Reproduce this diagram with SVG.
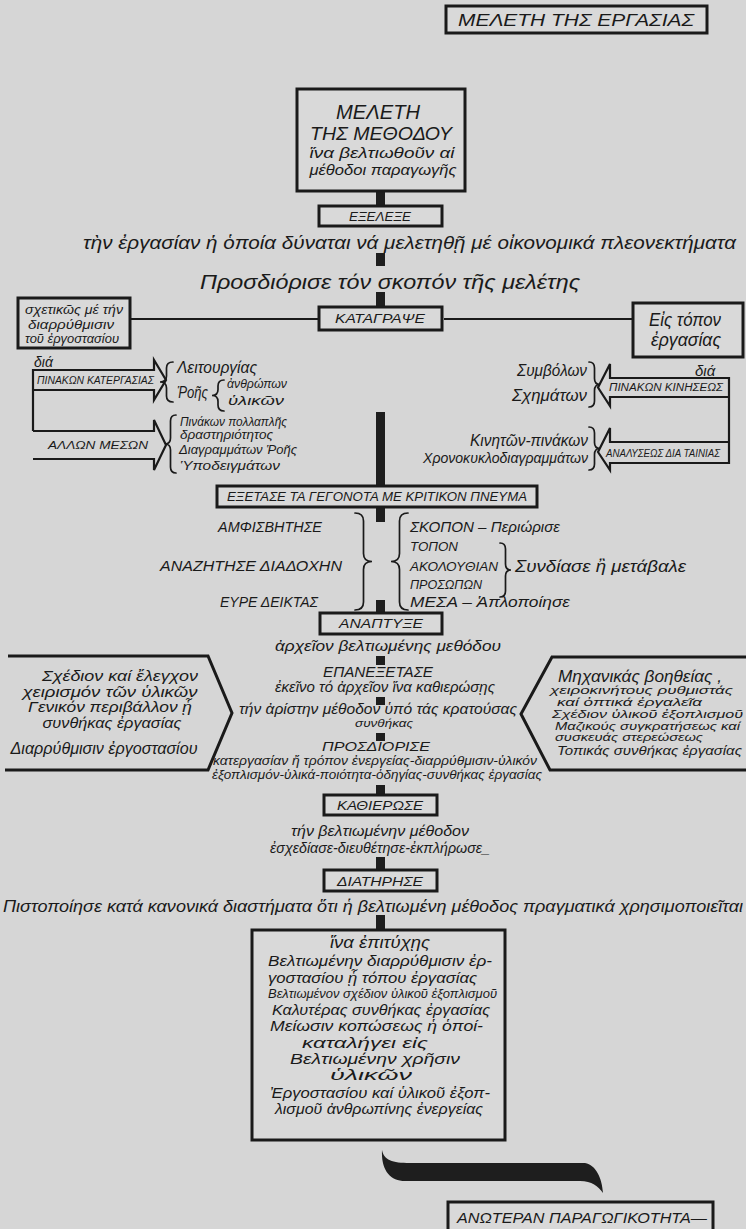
<svg xmlns="http://www.w3.org/2000/svg" width="746" height="1229" viewBox="0 0 746 1229">
<defs>
<style>
.t{font-family:"Liberation Sans","DejaVu Sans",sans-serif;font-style:italic;fill:#1a1a1a}
.c{text-anchor:middle}
.e{text-anchor:end}
.box{fill:#d9d9d9;stroke:#1a1a1a;stroke-width:3}
.bar{fill:#1e1e1e}
.ln{fill:none;stroke:#1a1a1a;stroke-width:2}
.br{fill:none;stroke:#1a1a1a;stroke-width:1.7;stroke-linecap:round}
.arr{fill:none;stroke:#1a1a1a;stroke-width:2.2;stroke-linejoin:miter}
.hex{fill:none;stroke:#1a1a1a;stroke-width:3;stroke-linejoin:miter}
</style>
</defs>
<rect width="746" height="1229" fill="#d6d6d6"/>

<g id="connectors">
<rect class="bar" x="376" y="191" width="9" height="15"/>
<rect class="bar" x="376" y="253" width="9" height="13"/>
<rect class="bar" x="376" y="292" width="9" height="15"/>
<line class="ln" x1="130" y1="319" x2="318" y2="319"/>
<line class="ln" x1="444" y1="319" x2="633" y2="319"/>
<rect class="bar" x="376" y="412" width="9" height="74"/>
<rect class="bar" x="376" y="507" width="9" height="15"/>
<rect class="bar" x="376" y="600" width="9" height="12"/>
<rect class="bar" x="376" y="656" width="9" height="9"/>
<rect class="bar" x="376" y="697" width="9" height="8"/>
<rect class="bar" x="376" y="733" width="9" height="8"/>
<rect class="bar" x="376" y="785" width="9" height="10"/>
<rect class="bar" x="376" y="857" width="9" height="13"/>
<rect class="bar" x="376" y="915" width="9" height="15"/>
<path class="bar" d="M382 1150 C384 1160 392 1163 410 1163 L585 1163 C596 1165 602 1178 603 1193 C598 1186 592 1181 580 1181 L405 1181 C390 1181 381 1170 382 1150 Z"/>
</g>

<g id="title">
<rect class="box" x="446" y="6" width="261" height="27"/>
<text class="t c" x="576" y="26" font-size="17" textLength="236" lengthAdjust="spacingAndGlyphs">ΜΕΛΕΤΗ ΤΗΣ ΕΡΓΑΣΙΑΣ</text>
</g>

<g id="meleti">
<rect class="box" x="297" y="89" width="168" height="102" stroke-width="3.5"/>
<text class="t c" x="378" y="119" font-size="20" textLength="84" lengthAdjust="spacingAndGlyphs">ΜΕΛΕΤΗ</text>
<text class="t c" x="381" y="140" font-size="19" textLength="142" lengthAdjust="spacingAndGlyphs">ΤΗΣ ΜΕΘΟΔΟΥ</text>
<text class="t c" x="382" y="158" font-size="15" textLength="145" lengthAdjust="spacingAndGlyphs">ἵνα βελτιωθοῦν αἱ</text>
<text class="t c" x="383" y="175" font-size="15" textLength="147" lengthAdjust="spacingAndGlyphs">μέθοδοι παραγωγῆς</text>
</g>

<g id="exelexe">
<rect class="box" x="319" y="206" width="123" height="20"/>
<text class="t c" x="380" y="221" font-size="13" textLength="62" lengthAdjust="spacingAndGlyphs">ΕΞΕΛΕΞΕ</text>
<text class="t" x="83" y="249" font-size="18" textLength="653" lengthAdjust="spacingAndGlyphs">τὴν ἐργασίαν ἡ ὁποία δύναται νά μελετηθῇ μέ οἰκονομικά πλεονεκτήματα</text>
</g>

<g id="skopos">
<text class="t c" x="390" y="289" font-size="20" textLength="380" lengthAdjust="spacingAndGlyphs">Προσδιόρισε τόν σκοπόν τῆς μελέτης</text>
</g>

<g id="katagrapse">
<rect class="box" x="319" y="307" width="123" height="23"/>
<text class="t c" x="380" y="323" font-size="13" textLength="90" lengthAdjust="spacingAndGlyphs">ΚΑΤΑΓΡΑΨΕ</text>
</g>

<g id="left-box">
<rect class="box" x="18" y="298" width="112" height="50" stroke-width="2.5"/>
<text class="t" x="25" y="314" font-size="13" textLength="98" lengthAdjust="spacingAndGlyphs">σχετικῶς μέ τήν</text>
<text class="t" x="28" y="329" font-size="13" textLength="86" lengthAdjust="spacingAndGlyphs">διαρρύθμισιν</text>
<text class="t" x="25" y="343" font-size="13" textLength="94" lengthAdjust="spacingAndGlyphs">τοῦ ἐργοστασίου</text>
</g>

<g id="right-box">
<rect class="box" x="633" y="303" width="110" height="54" stroke-width="2.5"/>
<text class="t c" x="685" y="326" font-size="18" textLength="72" lengthAdjust="spacingAndGlyphs">Εἰς τόπον</text>
<text class="t c" x="686" y="346" font-size="18" textLength="70" lengthAdjust="spacingAndGlyphs">ἐργασίας</text>
</g>

<g id="left-arrows">
<text class="t" x="34" y="367" font-size="14">διά</text>
<path class="arr" d="M33 370 L154 370 L154 360 L166 380 L154 400 L154 390 L33 390"/>
<line class="arr" x1="33" y1="369" x2="33" y2="431"/>
<text class="t" x="37" y="384" font-size="10" textLength="117" lengthAdjust="spacingAndGlyphs">ΠΙΝΑΚΩΝ ΚΑΤΕΡΓΑΣΙΑΣ</text>
<path class="arr" d="M33 431 L154 431 L154 420 L166 445 L154 470 L154 459 L33 459"/>
<text class="t" x="48" y="449" font-size="11" textLength="100" lengthAdjust="spacingAndGlyphs">ΑΛΛΩΝ ΜΕΣΩΝ</text>
</g>

<g id="left-lists">
<path class="br" d="M173 362 Q166.5 362 166.5 368 L166.5 376 Q166.5 382 160 382 Q166.5 382 166.5 388 L166.5 396 Q166.5 402 173 402"/>
<text class="t" x="177" y="373" font-size="16" textLength="80" lengthAdjust="spacingAndGlyphs">Λειτουργίας</text>
<text class="t" x="177" y="398" font-size="16" textLength="31" lengthAdjust="spacingAndGlyphs">Ῥοῆς</text>
<path class="br" d="M224 380 Q218 380 218 386 L218 389.5 Q218 395.5 212 395.5 Q218 395.5 218 401.5 L218 405 Q218 411 224 411"/>
<text class="t" x="227" y="388" font-size="13" textLength="60" lengthAdjust="spacingAndGlyphs">ἀνθρώπων</text>
<text class="t" x="228" y="405" font-size="13" textLength="56" lengthAdjust="spacingAndGlyphs">ὑλικῶν</text>
<path class="br" d="M176 415 Q170.5 415 170.5 421 L170.5 438 Q170.5 444 165 444 Q170.5 444 170.5 450 L170.5 467 Q170.5 473 176 473"/>
<text class="t" x="180" y="426" font-size="13" textLength="107" lengthAdjust="spacingAndGlyphs">Πινάκων πολλαπλῆς</text>
<text class="t" x="180" y="439" font-size="13" textLength="93" lengthAdjust="spacingAndGlyphs">δραστηριότητος</text>
<text class="t" x="179" y="454" font-size="13" textLength="118" lengthAdjust="spacingAndGlyphs">Διαγραμμάτων Ῥοῆς</text>
<text class="t" x="180" y="470" font-size="13" textLength="100" lengthAdjust="spacingAndGlyphs">Ὑποδειγμάτων</text>
</g>

<g id="right-arrows">
<text class="t" x="695" y="376" font-size="15">διά</text>
<path class="arr" d="M729 378 L610 378 L610 364 L598 387.5 L610 406 L610 397 L729 397"/>
<line class="arr" x1="729" y1="377" x2="729" y2="464"/>
<text class="t" x="609" y="391" font-size="10" textLength="114" lengthAdjust="spacingAndGlyphs">ΠΙΝΑΚΩΝ ΚΙΝΗΣΕΩΣ</text>
<path class="arr" d="M729 442 L610 442 L610 428 L598 452 L610 470 L610 463 L729 463"/>
<text class="t" x="606" y="457" font-size="10" textLength="114" lengthAdjust="spacingAndGlyphs">ΑΝΑΛΥΣΕΩΣ ΔΙΑ ΤΑΙΝΙΑΣ</text>
</g>

<g id="right-lists">
<path class="br" d="M589 362 Q594.5 362 594.5 368 L594.5 378.5 Q594.5 384.5 600 384.5 Q594.5 384.5 594.5 390.5 L594.5 401 Q594.5 407 589 407"/>
<text class="t e" x="587" y="376" font-size="17" textLength="70" lengthAdjust="spacingAndGlyphs">Συμβόλων</text>
<text class="t e" x="587" y="401" font-size="17" textLength="75" lengthAdjust="spacingAndGlyphs">Σχημάτων</text>
<path class="br" d="M589 427 Q594.5 427 594.5 433 L594.5 442.5 Q594.5 448.5 600 448.5 Q594.5 448.5 594.5 454.5 L594.5 464 Q594.5 470 589 470"/>
<text class="t e" x="588" y="446" font-size="16" textLength="118" lengthAdjust="spacingAndGlyphs">Κινητῶν-πινάκων</text>
<text class="t e" x="588" y="463" font-size="14" textLength="165" lengthAdjust="spacingAndGlyphs">Χρονοκυκλοδιαγραμμάτων</text>
</g>

<g id="exetase">
<rect class="box" x="217" y="486" width="320" height="21"/>
<text class="t c" x="377" y="501" font-size="12.5" textLength="300" lengthAdjust="spacingAndGlyphs">ΕΞΕΤΑΣΕ ΤΑ ΓΕΓΟΝΟΤΑ ΜΕ ΚΡΙΤΙΚΟΝ ΠΝΕΥΜΑ</text>
</g>

<g id="questions">
<text class="t" x="218" y="532" font-size="14" textLength="104" lengthAdjust="spacingAndGlyphs">ΑΜΦΙΣΒΗΤΗΣΕ</text>
<text class="t" x="160" y="571" font-size="14" textLength="182" lengthAdjust="spacingAndGlyphs">ΑΝΑΖΗΤΗΣΕ ΔΙΑΔΟΧΗΝ</text>
<text class="t" x="220" y="607" font-size="14" textLength="98" lengthAdjust="spacingAndGlyphs">ΕΥΡΕ ΔΕΙΚΤΑΣ</text>
<path class="br" d="M355 513 Q363.5 513 363.5 521 L363.5 553.5 Q363.5 561.5 372 561.5 Q363.5 561.5 363.5 569.5 L363.5 602 Q363.5 610 355 610"/>
<path class="br" d="M408 513 Q399.5 513 399.5 521 L399.5 553.5 Q399.5 561.5 391 561.5 Q399.5 561.5 399.5 569.5 L399.5 602 Q399.5 610 408 610"/>
<text class="t" x="410" y="532" font-size="14" textLength="150" lengthAdjust="spacingAndGlyphs">ΣΚΟΠΟΝ – Περιώρισε</text>
<text class="t" x="410" y="551" font-size="13" textLength="48" lengthAdjust="spacingAndGlyphs">ΤΟΠΟΝ</text>
<text class="t" x="410" y="571" font-size="13" textLength="88" lengthAdjust="spacingAndGlyphs">ΑΚΟΛΟΥΘΙΑΝ</text>
<text class="t" x="410" y="589" font-size="13" textLength="72" lengthAdjust="spacingAndGlyphs">ΠΡΟΣΩΠΩΝ</text>
<text class="t" x="410" y="607" font-size="14" textLength="160" lengthAdjust="spacingAndGlyphs">ΜΕΣΑ – Ἁπλοποίησε</text>
<path class="br" d="M500 543 Q505.5 543 505.5 549 L505.5 564 Q505.5 570 511 570 Q505.5 570 505.5 576 L505.5 591 Q505.5 597 500 597"/>
<text class="t" x="515" y="572" font-size="16" textLength="171" lengthAdjust="spacingAndGlyphs">Συνδίασε ἢ μετάβαλε</text>
</g>

<g id="anaptyxe">
<rect class="box" x="320" y="613" width="122" height="21"/>
<text class="t c" x="381" y="628" font-size="13" textLength="84" lengthAdjust="spacingAndGlyphs">ΑΝΑΠΤΥΞΕ</text>
<text class="t c" x="388" y="651" font-size="14" textLength="226" lengthAdjust="spacingAndGlyphs">ἀρχεῖον βελτιωμένης μεθόδου</text>
<text class="t c" x="378" y="677" font-size="14" textLength="110" lengthAdjust="spacingAndGlyphs">ΕΠΑΝΕΞΕΤΑΣΕ</text>
<text class="t c" x="385" y="692" font-size="14" textLength="220" lengthAdjust="spacingAndGlyphs">ἐκεῖνο τό ἀρχεῖον ἵνα καθιερώσῃς</text>
<text class="t c" x="378" y="714" font-size="14" textLength="278" lengthAdjust="spacingAndGlyphs">τήν ἀρίστην μέθοδον ὑπό τάς κρατούσας</text>
<text class="t c" x="384" y="727" font-size="11" textLength="58" lengthAdjust="spacingAndGlyphs">συνθήκας</text>
<text class="t c" x="376" y="751" font-size="13" textLength="108" lengthAdjust="spacingAndGlyphs">ΠΡΟΣΔΙΟΡΙΣΕ</text>
<text class="t c" x="375" y="765" font-size="12" textLength="324" lengthAdjust="spacingAndGlyphs">κατεργασίαν ἤ τρόπον ἐνεργείας-διαρρύθμισιν-ὑλικόν</text>
<text class="t c" x="377" y="779" font-size="12" textLength="330" lengthAdjust="spacingAndGlyphs">ἐξοπλισμόν-ὑλικά-ποιότητα-ὁδηγίας-συνθήκας ἐργασίας</text>
</g>

<g id="left-shape">
<path class="hex" d="M8 656 L208 656 L232 713 L208 770 L5 770"/>
<text class="t c" x="120" y="681" font-size="15" textLength="156" lengthAdjust="spacingAndGlyphs">Σχέδιον καί ἔλεγχον</text>
<text class="t c" x="110" y="697" font-size="15" textLength="175" lengthAdjust="spacingAndGlyphs">χειρισμόν τῶν ὑλικῶν</text>
<text class="t c" x="110" y="712" font-size="15" textLength="164" lengthAdjust="spacingAndGlyphs">Γενικόν περιβάλλον ᾗ</text>
<text class="t c" x="112" y="728" font-size="15" textLength="139" lengthAdjust="spacingAndGlyphs">συνθήκας ἐργασίας</text>
<text class="t c" x="104" y="754" font-size="16" textLength="187" lengthAdjust="spacingAndGlyphs">Διαρρύθμισιν ἐργοστασίου</text>
</g>

<g id="right-shape">
<path class="hex" d="M746 657 L552 657 L521 714 L550 770 L746 770"/>
<text class="t" x="558" y="682" font-size="16" textLength="164" lengthAdjust="spacingAndGlyphs">Μηχανικάς βοηθείας ,</text>
<text class="t" x="550" y="694" font-size="11.5" textLength="183" lengthAdjust="spacingAndGlyphs">χειροκινήτους ρυθμιστάς</text>
<text class="t" x="557" y="706" font-size="11" textLength="145" lengthAdjust="spacingAndGlyphs">καί ὀπτικά ἐργαλεῖα</text>
<text class="t" x="552" y="718" font-size="11" textLength="191" lengthAdjust="spacingAndGlyphs">Σχέδιον ὑλικοῦ ἐξοπλισμοῦ</text>
<text class="t" x="555" y="730" font-size="10.5" textLength="185" lengthAdjust="spacingAndGlyphs">Μαζικούς συγκρατήσεως καί</text>
<text class="t" x="555" y="741" font-size="10.5" textLength="148" lengthAdjust="spacingAndGlyphs">συσκευάς στερεώσεως</text>
<text class="t" x="557" y="755" font-size="12" textLength="185" lengthAdjust="spacingAndGlyphs">Τοπικάς συνθήκας ἐργασίας</text>
</g>

<g id="kathierose">
<rect class="box" x="324" y="795" width="113" height="20"/>
<text class="t c" x="380" y="810" font-size="13" textLength="86" lengthAdjust="spacingAndGlyphs">ΚΑΘΙΕΡΩΣΕ</text>
<text class="t c" x="380" y="836" font-size="15" textLength="178" lengthAdjust="spacingAndGlyphs">τήν βελτιωμένην μέθοδον</text>
<text class="t c" x="380" y="853" font-size="15" textLength="220" lengthAdjust="spacingAndGlyphs">ἐσχεδίασε-διευθέτησε-ἐκπλήρωσε_</text>
</g>

<g id="diatirise">
<rect class="box" x="324" y="870" width="113" height="21"/>
<text class="t c" x="380" y="886" font-size="13" textLength="86" lengthAdjust="spacingAndGlyphs">ΔΙΑΤΗΡΗΣΕ</text>
<text class="t" x="3" y="912" font-size="17" textLength="740" lengthAdjust="spacingAndGlyphs">Πιστοποίησε κατά κανονικά διαστήματα ὅτι ἡ βελτιωμένη μέθοδος πραγματικά χρησιμοποιεῖται</text>
</g>

<g id="results">
<rect class="box" x="252" y="930" width="253" height="210" stroke-width="3.5"/>
<text class="t c" x="380" y="948" font-size="16" textLength="100" lengthAdjust="spacingAndGlyphs">ἵνα ἐπιτύχῃς</text>
<text class="t" x="268" y="966" font-size="15" textLength="224" lengthAdjust="spacingAndGlyphs">Βελτιωμένην διαρρύθμισιν ἐρ-</text>
<text class="t" x="268" y="983" font-size="15" textLength="209" lengthAdjust="spacingAndGlyphs">γοστασίου ᾗ τόπου ἐργασίας</text>
<text class="t" x="268" y="998" font-size="12" textLength="229" lengthAdjust="spacingAndGlyphs">Βελτιωμένον σχέδιον ὑλικοῦ ἐξοπλισμοῦ</text>
<text class="t" x="272" y="1015" font-size="15" textLength="218" lengthAdjust="spacingAndGlyphs">Καλυτέρας συνθήκας ἐργασίας</text>
<text class="t" x="270" y="1031" font-size="15" textLength="213" lengthAdjust="spacingAndGlyphs">Μείωσιν κοπώσεως ἡ ὁποί-</text>
<text class="t" x="302" y="1048" font-size="15" textLength="126" lengthAdjust="spacingAndGlyphs">καταλήγει εἰς</text>
<text class="t" x="290" y="1064" font-size="15" textLength="170" lengthAdjust="spacingAndGlyphs">Βελτιωμένην χρῆσιν</text>
<text class="t" x="330" y="1080" font-size="15" textLength="82" lengthAdjust="spacingAndGlyphs">ὑλικῶν</text>
<text class="t" x="270" y="1098" font-size="15" textLength="220" lengthAdjust="spacingAndGlyphs">Ἐργοστασίου καί ὑλικοῦ ἐξοπ-</text>
<text class="t" x="275" y="1114" font-size="15" textLength="208" lengthAdjust="spacingAndGlyphs">λισμοῦ ἀνθρωπίνης ἐνεργείας</text>
</g>

<g id="output">
<rect class="box" x="448" y="1202" width="265" height="40"/>
<text class="t" x="457" y="1223" font-size="15" textLength="250" lengthAdjust="spacingAndGlyphs">ΑΝΩΤΕΡΑΝ ΠΑΡΑΓΩΓΙΚΟΤΗΤΑ—</text>
</g>
</svg>
